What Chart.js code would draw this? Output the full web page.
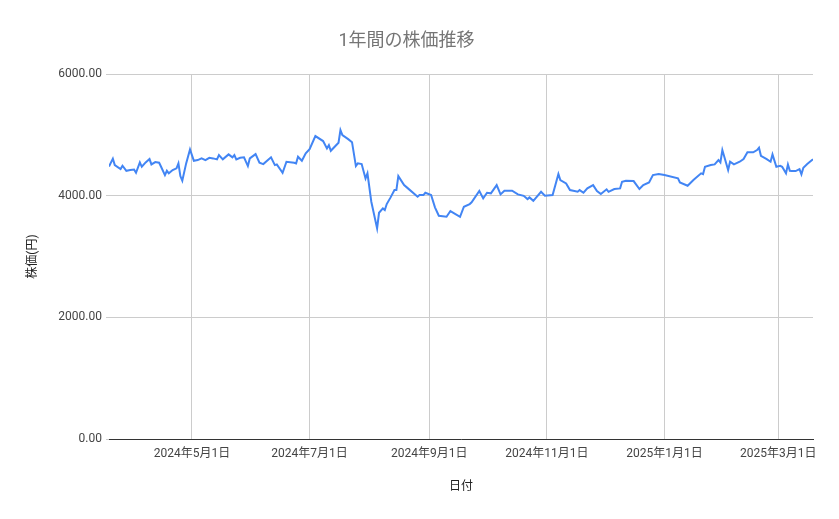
<!DOCTYPE html>
<html lang="ja">
<head>
<meta charset="utf-8">
<title>1年間の株価推移</title>
<script src="https://cdn.jsdelivr.net/npm/chart.js@4.4.1/dist/chart.umd.min.js"></script>
<style>
  html, body { margin: 0; padding: 0; background: #ffffff; }
  #wrap { width: 839px; height: 519px; }
</style>
</head>
<body>
<div id="wrap"><canvas id="chart" width="839" height="519"></canvas></div>
<script>
// 日付と株価（円）
const dates = [
  "2024-03-19", "2024-03-21", "2024-03-22", "2024-03-25", "2024-03-26", "2024-03-28", "2024-03-30",
  "2024-04-01", "2024-04-02", "2024-04-04", "2024-04-05", "2024-04-07", "2024-04-09", "2024-04-10",
  "2024-04-12", "2024-04-14", "2024-04-15", "2024-04-17", "2024-04-18", "2024-04-19", "2024-04-21",
  "2024-04-23", "2024-04-24", "2024-04-25", "2024-04-26", "2024-04-28", "2024-04-30",
  "2024-05-02", "2024-05-04", "2024-05-06", "2024-05-08", "2024-05-10", "2024-05-12", "2024-05-14",
  "2024-05-15", "2024-05-17", "2024-05-20", "2024-05-22", "2024-05-23", "2024-05-24", "2024-05-26",
  "2024-05-28", "2024-05-30", "2024-05-31",
  "2024-06-03", "2024-06-05", "2024-06-07", "2024-06-11", "2024-06-13", "2024-06-14", "2024-06-17",
  "2024-06-19", "2024-06-23", "2024-06-24", "2024-06-25", "2024-06-27", "2024-06-29",
  "2024-07-01", "2024-07-04", "2024-07-08", "2024-07-10", "2024-07-11", "2024-07-12", "2024-07-16",
  "2024-07-17", "2024-07-18", "2024-07-21", "2024-07-23", "2024-07-25", "2024-07-26", "2024-07-28",
  "2024-07-30", "2024-07-31",
  "2024-08-02", "2024-08-05", "2024-08-06", "2024-08-08", "2024-08-09", "2024-08-10", "2024-08-12",
  "2024-08-14", "2024-08-15", "2024-08-16", "2024-08-19", "2024-08-21", "2024-08-26", "2024-08-27",
  "2024-08-29", "2024-08-30",
  "2024-09-02", "2024-09-04", "2024-09-06", "2024-09-10", "2024-09-12", "2024-09-17", "2024-09-19",
  "2024-09-22", "2024-09-23", "2024-09-27", "2024-09-29",
  "2024-10-01", "2024-10-03", "2024-10-06", "2024-10-08", "2024-10-10", "2024-10-14", "2024-10-17",
  "2024-10-20", "2024-10-22", "2024-10-23", "2024-10-25", "2024-10-29", "2024-10-31",
  "2024-11-04", "2024-11-07", "2024-11-08", "2024-11-11", "2024-11-13", "2024-11-17", "2024-11-18",
  "2024-11-20", "2024-11-22", "2024-11-25", "2024-11-27", "2024-11-29",
  "2024-12-02", "2024-12-03", "2024-12-06", "2024-12-09", "2024-12-10", "2024-12-12", "2024-12-16",
  "2024-12-19", "2024-12-21", "2024-12-24", "2024-12-26", "2024-12-29",
  "2025-01-01", "2025-01-08", "2025-01-09", "2025-01-13", "2025-01-16", "2025-01-20", "2025-01-21",
  "2025-01-22", "2025-01-25", "2025-01-27", "2025-01-29", "2025-01-30", "2025-01-31",
  "2025-02-03", "2025-02-04", "2025-02-06", "2025-02-09", "2025-02-11", "2025-02-13", "2025-02-16",
  "2025-02-18", "2025-02-19", "2025-02-20", "2025-02-23", "2025-02-25", "2025-02-26", "2025-02-28",
  "2025-03-02", "2025-03-03", "2025-03-05", "2025-03-06", "2025-03-07", "2025-03-08", "2025-03-10",
  "2025-03-12", "2025-03-13", "2025-03-14", "2025-03-16", "2025-03-19",
];

const prices = [
  4480, 4610, 4504, 4438, 4493, 4410, 4422,
  4430, 4377, 4548, 4476, 4548, 4603, 4515,
  4553, 4542, 4476, 4340, 4410, 4368, 4422,
  4450, 4532, 4323, 4246, 4532, 4762,
  4575, 4586, 4614, 4586, 4624, 4614, 4598,
  4668, 4598, 4680, 4631, 4668, 4598, 4624,
  4631, 4488, 4614,
  4685, 4542, 4520, 4631, 4504, 4515, 4377,
  4559, 4542, 4532, 4641, 4575, 4696,
  4767, 4981, 4899, 4778, 4833, 4739, 4871,
  5079, 4997, 4930, 4880, 4488, 4532, 4520,
  4285, 4368,
  3901, 3463, 3720, 3792, 3764, 3863, 3973,
  4093, 4093, 4323, 4175, 4121, 3983, 4011,
  4011, 4049,
  4011, 3809, 3671, 3654, 3748, 3654, 3819,
  3863, 3891, 4077, 3957,
  4049, 4039, 4175, 4022, 4082, 4082, 4022,
  3999, 3945, 3973, 3917, 4065, 3999,
  4011, 4356, 4257, 4203, 4093, 4065, 4093,
  4049, 4121, 4175, 4077, 4027,
  4105, 4065, 4110, 4121, 4230, 4246, 4241,
  4110, 4175, 4219, 4340, 4356,
  4340, 4285, 4219, 4164, 4257, 4368, 4356,
  4476, 4504, 4515, 4586, 4548, 4751,
  4422, 4559, 4515, 4559, 4603, 4713, 4713,
  4751, 4789, 4657, 4603, 4559, 4680, 4476,
  4493, 4476, 4368, 4515, 4410, 4405, 4405,
  4438, 4351, 4460, 4520, 4600,
];

// x軸の目盛り（2か月ごと）
const tickDates = ["2024-05-01", "2024-07-01", "2024-09-01", "2024-11-01", "2025-01-01", "2025-03-01"];
const yTicks = [0, 2000, 4000, 6000];

const DAY = 86400000;
const toDay = (s) => {
  const [y, m, d] = s.split("-").map(Number);
  return Date.UTC(y, m - 1, d) / DAY;
};
const fmtDay = (v) => {
  const dt = new Date(Math.round(v) * DAY);
  return `${dt.getUTCFullYear()}年${dt.getUTCMonth() + 1}月${dt.getUTCDate()}日`;
};

const points = dates.map((d, i) => ({ x: toDay(d), y: prices[i] }));
const tickDays = tickDates.map(toDay);

const FONT = "Roboto, 'Noto Sans CJK JP', 'Noto Sans', sans-serif";

new Chart(document.getElementById("chart"), {
  type: "line",
  data: {
    datasets: [
      {
        label: "株価",
        data: points,
        borderColor: "#4285f4",
        backgroundColor: "#4285f4",
        borderWidth: 2,
        pointRadius: 0,
        tension: 0,
        fill: false,
      },
    ],
  },
  options: {
    responsive: false,
    animation: false,
    layout: { padding: { left: 0, right: 26, top: 0, bottom: 0 } },
    plugins: {
      legend: { display: false },
      tooltip: { enabled: false },
      title: {
        display: true,
        text: "1年間の株価推移",
        color: "#757575",
        font: { family: FONT, size: 18, weight: "normal" },
        padding: { top: 31, bottom: 21.5 },
      },
    },
    scales: {
      x: {
        type: "linear",
        min: points[0].x,
        max: points[points.length - 1].x,
        afterBuildTicks(scale) {
          scale.ticks = tickDays.map((v) => ({ value: v }));
        },
        afterFit(scale) {
          scale.height = 80;
        },
        grid: { color: "#cccccc", drawTicks: false },
        border: { display: true, color: "#333333", width: 1 },
        ticks: {
          autoSkip: false,
          maxRotation: 0,
          padding: 8,
          color: "#444444",
          font: { family: FONT, size: 12 },
          callback: (v) => fmtDay(v),
        },
        title: {
          display: true,
          text: "日付",
          color: "#222222",
          font: { family: FONT, size: 12 },
          padding: { top: 4, bottom: 25 },
        },
      },
      y: {
        min: 0,
        max: 6000,
        afterBuildTicks(scale) {
          scale.ticks = yTicks.map((v) => ({ value: v }));
        },
        afterFit(scale) {
          scale.width = 109;
        },
        grid: { color: "#cccccc", tickLength: 3 },
        border: { display: false },
        ticks: {
          padding: 4,
          color: "#444444",
          font: { family: FONT, size: 12 },
          callback: (v) => Number(v).toFixed(2),
        },
        title: {
          display: true,
          text: "株価(円)",
          color: "#222222",
          font: { family: FONT, size: 12 },
          padding: { top: 26, bottom: 4 },
        },
      },
    },
  },
});
</script>
</body>
</html>
